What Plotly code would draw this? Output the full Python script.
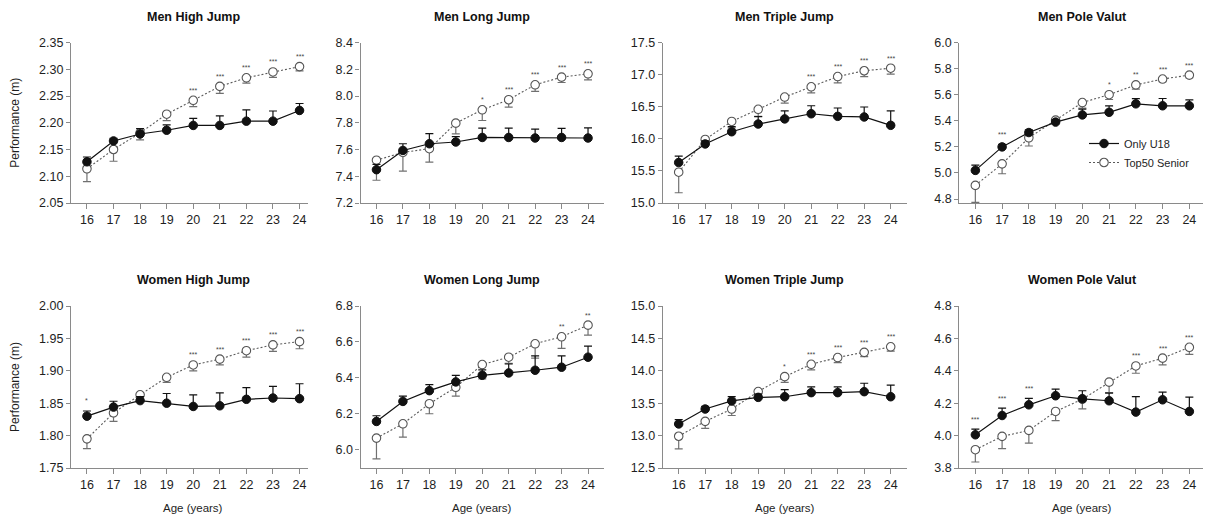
import plotly.graph_objects as go

# screen size and page offset (default body margin of the page)
SW, SH = 1211, 520
OFF = 8
W, H = SW - OFF, SH - OFF

ages = [16, 17, 18, 19, 20, 21, 22, 23, 24]
age_labels = [str(a) for a in ages]

titles = ["Men High Jump", "Men Long Jump", "Men Triple Jump", "Men Pole Valut",
          "Women High Jump", "Women Long Jump", "Women Triple Jump", "Women Pole Valut"]

# Men High Jump
mhj_u18 = [2.127, 2.166, 2.179, 2.186, 2.195, 2.195, 2.203, 2.203, 2.223]
mhj_u18_err = [0.009, 0.005, 0.010, 0.010, 0.013, 0.018, 0.021, 0.019, 0.013]
mhj_sen = [2.114, 2.150, 2.181, 2.216, 2.242, 2.268, 2.284, 2.295, 2.305]
mhj_sen_err = [0.024, 0.022, 0.013, 0.012, 0.012, 0.013, 0.010, 0.010, 0.008]
mhj_sig = ["", "", "", "", "***", "***", "***", "***", "***"]

# Men Long Jump
mlj_u18 = [7.449, 7.593, 7.643, 7.656, 7.690, 7.690, 7.686, 7.690, 7.686]
mlj_u18_err = [0.04, 0.05, 0.075, 0.04, 0.07, 0.07, 0.067, 0.068, 0.075]
mlj_sen = [7.520, 7.578, 7.606, 7.797, 7.897, 7.972, 8.084, 8.141, 8.166]
mlj_sen_err = [0.15, 0.14, 0.10, 0.08, 0.08, 0.055, 0.05, 0.04, 0.045]
mlj_sig = ["", "", "", "", "*", "***", "***", "***", "***"]

# Men Triple Jump
mtj_u18 = [15.63, 15.92, 16.11, 16.23, 16.31, 16.39, 16.35, 16.34, 16.21]
mtj_u18_err = [0.10, 0.05, 0.08, 0.115, 0.125, 0.125, 0.13, 0.155, 0.225]
mtj_sen = [15.48, 15.99, 16.27, 16.46, 16.65, 16.81, 16.97, 17.06, 17.10]
mtj_sen_err = [0.32, 0.06, 0.10, 0.11, 0.095, 0.094, 0.10, 0.09, 0.094]
mtj_sig = ["", "", "", "", "", "***", "***", "***", "***"]

# Men Pole Vault
mpv_u18 = [5.02, 5.20, 5.31, 5.39, 5.445, 5.465, 5.53, 5.515, 5.515]
mpv_u18_err = [0.04, 0.02, 0.02, 0.02, 0.045, 0.05, 0.04, 0.056, 0.046]
mpv_sen = [4.905, 5.07, 5.27, 5.405, 5.54, 5.60, 5.675, 5.72, 5.75]
mpv_sen_err = [0.13, 0.076, 0.063, 0.02, 0.043, 0.037, 0.033, 0.02, 0.02]
mpv_sig = ["", "***", "", "", "", "*", "**", "***", "***"]

# Women High Jump
whj_u18 = [1.830, 1.844, 1.854, 1.850, 1.845, 1.846, 1.856, 1.858, 1.857]
whj_u18_err = [0.008, 0.009, 0.006, 0.015, 0.018, 0.020, 0.018, 0.018, 0.023]
whj_sen = [1.795, 1.835, 1.863, 1.890, 1.909, 1.918, 1.931, 1.940, 1.945]
whj_sen_err = [0.015, 0.013, 0.005, 0.008, 0.009, 0.009, 0.010, 0.010, 0.011]
whj_sig = ["*", "", "", "", "***", "***", "***", "***", "***"]

# Women Long Jump
wlj_u18 = [6.155, 6.267, 6.327, 6.376, 6.413, 6.426, 6.441, 6.458, 6.514]
wlj_u18_err = [0.032, 0.030, 0.034, 0.037, 0.03, 0.05, 0.08, 0.063, 0.062]
wlj_sen = [6.062, 6.142, 6.254, 6.346, 6.473, 6.514, 6.589, 6.628, 6.693]
wlj_sen_err = [0.116, 0.075, 0.056, 0.05, 0.08, 0.035, 0.08, 0.065, 0.056]
wlj_sig = ["", "", "", "", "", "", "", "**", "**"]

# Women Triple Jump
wtj_u18 = [13.18, 13.41, 13.535, 13.59, 13.60, 13.663, 13.663, 13.678, 13.60]
wtj_u18_err = [0.065, 0.04, 0.065, 0.05, 0.11, 0.09, 0.09, 0.13, 0.18]
wtj_sen = [12.99, 13.22, 13.41, 13.68, 13.91, 14.10, 14.205, 14.285, 14.37]
wtj_sen_err = [0.195, 0.11, 0.10, 0.03, 0.09, 0.087, 0.08, 0.066, 0.066]
wtj_sig = ["", "", "", "", "*", "***", "***", "***", "***"]

# Women Pole Vault
wpv_u18 = [4.005, 4.124, 4.19, 4.246, 4.227, 4.215, 4.145, 4.221, 4.149]
wpv_u18_err = [0.035, 0.045, 0.04, 0.041, 0.05, 0.047, 0.096, 0.047, 0.088]
wpv_sen = [3.913, 3.995, 4.032, 4.149, 4.225, 4.33, 4.43, 4.478, 4.545]
wpv_sen_err = [0.076, 0.076, 0.078, 0.057, 0.06, 0.064, 0.045, 0.041, 0.043]
wpv_sig = ["***", "***", "***", "", "", "", "***", "***", "***"]

y_ranges = [[2.05, 2.35], [7.2, 8.4], [15.0, 17.5], [4.77, 6.0],
            [1.75, 2.00], [5.895, 6.8], [12.5, 15.0], [3.8, 4.8]]
y_ticks = [[2.05, 2.10, 2.15, 2.20, 2.25, 2.30, 2.35],
           [7.2, 7.4, 7.6, 7.8, 8.0, 8.2, 8.4],
           [15.0, 15.5, 16.0, 16.5, 17.0, 17.5],
           [4.8, 5.0, 5.2, 5.4, 5.6, 5.8, 6.0],
           [1.75, 1.80, 1.85, 1.90, 1.95, 2.00],
           [6.0, 6.2, 6.4, 6.6, 6.8],
           [12.5, 13.0, 13.5, 14.0, 14.5, 15.0],
           [3.8, 4.0, 4.2, 4.4, 4.6, 4.8]]
y_fmt = [".2f", ".1f", ".1f", ".1f", ".2f", ".1f", ".1f", ".1f"]

panels = [
    (mhj_u18, mhj_u18_err, mhj_sen, mhj_sen_err, mhj_sig),
    (mlj_u18, mlj_u18_err, mlj_sen, mlj_sen_err, mlj_sig),
    (mtj_u18, mtj_u18_err, mtj_sen, mtj_sen_err, mtj_sig),
    (mpv_u18, mpv_u18_err, mpv_sen, mpv_sen_err, mpv_sig),
    (whj_u18, whj_u18_err, whj_sen, whj_sen_err, whj_sig),
    (wlj_u18, wlj_u18_err, wlj_sen, wlj_sen_err, wlj_sig),
    (wtj_u18, wtj_u18_err, wtj_sen, wtj_sen_err, wtj_sig),
    (wpv_u18, wpv_u18_err, wpv_sen, wpv_sen_err, wpv_sig),
]

# layout geometry in screen pixels
col_px = [(71.0, 307.5), (360.6, 603.9), (662.8, 906.6), (959.3, 1205.4)]
col_xr = [[15.4, 24.3], [15.4, 24.6], [15.4, 24.6], [15.4, 24.6]]
row_px = [(42.5, 203.0), (306.0, 468.0)]


def px_x(sx):
    return (sx - OFF) / W


def px_y(sy):
    return 1 - (sy - OFF) / H


FONT = "Liberation Sans, Arial, Helvetica, sans-serif"
AXC = "#8a8a8a"
TXT = "#1e1e1e"

fig = go.Figure()
annotations = []

for i, (u18, u18e, sen, sene, sig) in enumerate(panels):
    r, c = divmod(i, 4)
    n = i + 1
    xa = "x" if n == 1 else f"x{n}"
    ya = "y" if n == 1 else f"y{n}"
    show = (i == 3)
    fig.add_trace(go.Scatter(
        x=ages, y=sen, xaxis=xa, yaxis=ya, mode="lines+markers",
        name="Top50 Senior", showlegend=show, legendrank=2,
        line=dict(color="#5a5a5a", width=1.1, dash="2px,2px"),
        marker=dict(symbol="circle", size=8.5, color="white",
                    line=dict(color="#555555", width=1.1)),
        error_y=dict(type="data", symmetric=False, array=[0] * len(sene),
                     arrayminus=sene, color="#707070", thickness=1.2, width=4),
    ))
    fig.add_trace(go.Scatter(
        x=ages, y=u18, xaxis=xa, yaxis=ya, mode="lines+markers",
        name="Only U18", showlegend=show, legendrank=1,
        line=dict(color="#111111", width=1.2),
        marker=dict(symbol="circle", size=8.5, color="#111111",
                    line=dict(color="#111111", width=1)),
        error_y=dict(type="data", symmetric=False, array=u18e,
                     arrayminus=[0] * len(u18e), color="#111111", thickness=1.2, width=4),
    ))
    x0, x1 = col_px[c]
    yt, yb = row_px[r]
    common = dict(showline=True, linecolor=AXC, linewidth=1.3, ticks="outside",
                  tickwidth=1.3, tickcolor=AXC, showgrid=False, automargin=False,
                  zeroline=False, tickfont=dict(family=FONT, size=12.5, color=TXT))
    fig.layout[f"xaxis{n if n > 1 else ''}"] = dict(
        domain=[px_x(x0), px_x(x1)], range=col_xr[c], anchor=ya, ticklen=5,
        tickvals=ages, ticktext=age_labels, **common)
    fig.layout[f"yaxis{n if n > 1 else ''}"] = dict(
        domain=[px_y(yb), px_y(yt)], range=y_ranges[i], anchor=xa, ticklen=4,
        tickvals=y_ticks[i], tickformat=y_fmt[i], **common)
    # panel title
    annotations.append(dict(x=20, xref=xa, y=px_y(yt - 26), yref="paper",
                            text=f"<b>{titles[i]}</b>", showarrow=False,
                            font=dict(family=FONT, size=12.5, color="#111111"),
                            xanchor="center", yanchor="middle"))
    # significance marks
    for k, s in enumerate(sig):
        if s:
            anchor_y = max(sen[k], u18[k] + u18e[k])
            annotations.append(dict(x=ages[k], xref=xa, y=anchor_y, yref=ya,
                                    text=s, showarrow=False, yshift=10,
                                    font=dict(family=FONT, size=7, color="#444444"),
                                    xanchor="center", yanchor="middle"))
    if c == 0:
        annotations.append(dict(x=px_x(15), xref="paper", y=px_y((yt + yb) / 2), yref="paper",
                                text="Performance (m)", textangle=-90, showarrow=False,
                                font=dict(family=FONT, size=12, color=TXT),
                                xanchor="center", yanchor="middle"))
    if r == 1:
        annotations.append(dict(x=20, xref=xa, y=px_y(508), yref="paper",
                                text="Age (years)", showarrow=False,
                                font=dict(family=FONT, size=11.5, color=TXT),
                                xanchor="center", yanchor="middle"))

fig.update_layout(
    width=W, height=H, margin=dict(l=0, r=0, t=0, b=0, autoexpand=False),
    paper_bgcolor="white", plot_bgcolor="white",
    annotations=annotations,
    legend=dict(x=px_x(1084), y=px_y(129), xanchor="left", yanchor="top",
                font=dict(family=FONT, size=11, color=TXT),
                bgcolor="rgba(0,0,0,0)", tracegroupgap=0, itemwidth=30),
    font=dict(family=FONT),
)

fig.write_html("out.html")
